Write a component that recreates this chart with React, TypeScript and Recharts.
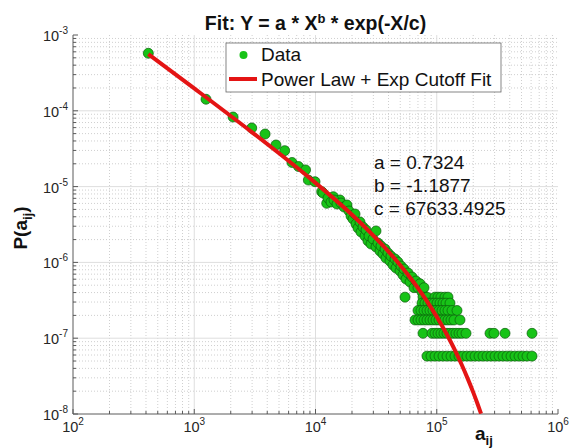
// Log-log scatter of P(a_ij) with a power law + exponential cutoff fit.

import React from 'react';
import { ScatterChart, Scatter, XAxis, YAxis, ReferenceLine } from 'recharts';

const FONT = "'Liberation Sans', Arial, Helvetica, sans-serif";
const AX = '#5a5a5a';
const GREEN = '#17c317';
const RED = '#e41414';

// axis ticks
const xMajor = [1e2, 1e3, 1e4, 1e5, 1e6];
const xExp = ['2', '3', '4', '5', '6'];
const yMajor = [1e-8, 1e-7, 1e-6, 1e-5, 1e-4, 1e-3];
const yExp = ['-8', '-7', '-6', '-5', '-4', '-3'];
const steps = [2, 3, 4, 5, 6, 7, 8, 9];
const xMinor = xMajor.slice(0, -1).flatMap((d) => steps.map((k) => k * d));
const yMinor = yMajor.slice(0, -1).flatMap((d) => steps.map((k) => k * d));

// isolated points at small a_ij
const headX = [418, 1250, 2090, 2980, 3840, 4720, 5570, 6400, 7240, 8280, 8730, 9910, 11250, 12370, 14020, 15920, 18080, 20500, 21870];
const headY = [5.74e-4, 1.42e-4, 8.28e-5, 5.93e-5, 4.94e-5, 3.54e-5, 2.98e-5, 2.08e-5, 1.84e-5, 1.66e-5, 1.22e-5, 1.16e-5, 8.57e-6, 6.02e-6, 7.36e-6, 6.66e-6, 5.43e-6, 4.01e-6, 3.28e-6];

// dense band in the middle
const bandX = [11530, 12680, 13420, 14210, 15040, 16230, 17190, 18190, 18890, 19630, 20390, 21180, 21580, 22420, 23290, 23730, 24650, 25600, 26100, 27100, 27620, 28690, 29800, 31550, 31550, 32770, 34040, 34690, 36030, 37430, 38140, 39620, 41150, 41940, 43560, 45250, 46120, 47900, 49760, 50710, 52670, 53700, 54730, 55780, 57940, 60180, 62510, 64930, 67450, 70060, 72770, 75590, 78510];
const bandY = [8.23e-6, 7.07e-6, 6.26e-6, 6.65e-6, 5.89e-6, 6.07e-6, 5.38e-6, 5.72e-6, 4.77e-6, 4.09e-6, 3.74e-6, 4.35e-6, 3.21e-6, 2.84e-6, 3.41e-6, 2.52e-6, 2.93e-6, 2.23e-6, 2.68e-6, 1.92e-6, 2.23e-6, 1.75e-6, 2.04e-6, 2.6e-6, 1.6e-6, 1.8e-6, 1.41e-6, 1.65e-6, 1.29e-6, 1.5e-6, 1.14e-6, 1.33e-6, 1.04e-6, 1.21e-6, 9.24e-7, 1.11e-6, 8.43e-7, 1.01e-6, 7.7e-7, 8.96e-7, 6.82e-7, 8.18e-7, 3.48e-7, 6.04e-7, 7.25e-7, 5.51e-7, 6.42e-7, 4.64e-7, 5.68e-7, 4.64e-7, 5.22e-7, 4.06e-7, 4.64e-7];

// tail rows (few counts each)
const rowLevels = [3.48e-7, 2.9e-7, 2.32e-7, 1.74e-7, 1.16e-7, 5.8e-8];
const row6X = [77040, 83110, 96740, 102400, 108400, 116900, 123800];
const row5X = [75590, 80010, 84680, 89660, 94910, 100500, 106400, 112600, 119200, 128600];
const row4X = [70060, 74160, 78510, 83110, 87970, 93120, 98580, 104400, 110500, 116900, 123800, 133600, 146900];
const row3X = [66170, 70060, 74160, 78510, 83110, 87970, 93120, 98580, 104400, 110500, 116900, 123800, 131100, 138800, 155500];
const row2X = [77040, 91350, 96740, 102400, 108400, 114700, 121500, 128600, 136100, 144100, 152600, 161500, 174300, 274900, 296700, 365600, 610500];
const row1X = [83110, 89660, 96740, 104400, 112600, 121500, 131100, 141400, 152600, 164600, 177600, 191600, 206800, 223100, 240700, 259700, 280200, 302300, 326200, 351900, 379700, 409700, 442000, 476900, 514400, 555000, 610500];
const rowsX = [row6X, row5X, row4X, row3X, row2X, row1X];

// fitted curve
const fitX = [418, 1000, 3000, 5000, 1e4, 2e4, 3e4, 4e4, 5e4, 6e4, 7e4, 8.5e4, 1e5, 1.15e5, 1.3e5, 1.45e5, 1.6e5, 1.8e5, 2e5, 2.15e5, 2.32e5];
const fitY = [5.61e-4, 1.974e-4, 5.2e-5, 2.75e-5, 1.12e-5, 4.25e-6, 2.26e-6, 1.39e-6, 9.18e-7, 6.38e-7, 4.58e-7, 2.91e-7, 1.92e-7, 1.305e-7, 9.04e-8, 6.36e-8, 4.53e-8, 2.93e-8, 1.93e-8, 1.42e-8, 1.01e-8];

const points = [
  ...headX.map((x, i) => ({ x, y: headY[i] })),
  ...bandX.map((x, i) => ({ x, y: bandY[i] })),
  ...rowsX.flatMap((row, r) => row.map((x) => ({ x, y: rowLevels[r] }))),
];
const fit = fitX.map((x, i) => ({ x, y: fitY[i] }));

const xTicks = [...xMajor, ...xMinor];
const yTicks = [...yMajor, ...yMinor];

function BottomTick({ x, y, payload }: any) {
  const i = xMajor.indexOf(payload.value);
  const len = i < 0 ? 3 : 5;
  return (
    <g>
      <line x1={x} x2={x} y1={y} y2={y - len} stroke={AX} />
      {i >= 0 && (
        <text x={x} y={y + 18} textAnchor="middle" fontSize={14.5} fill="#262626" fontFamily={FONT}>
          10<tspan dy={-7} fontSize={10}>{xExp[i]}</tspan>
        </text>
      )}
    </g>
  );
}

function TopTick({ x, y, payload }: any) {
  const len = xMajor.includes(payload.value) ? 5 : 3;
  return <line x1={x} x2={x} y1={y} y2={y + len} stroke={AX} />;
}

function LeftTick({ x, y, payload }: any) {
  const i = yMajor.indexOf(payload.value);
  const len = i < 0 ? 3 : 5;
  return (
    <g>
      <line x1={x} x2={x + len} y1={y} y2={y} stroke={AX} />
      {i >= 0 && (
        <text x={x - 5} y={y + 6} textAnchor="end" fontSize={14.5} fill="#262626" fontFamily={FONT}>
          10<tspan dy={-7} fontSize={10}>{yExp[i]}</tspan>
        </text>
      )}
    </g>
  );
}

function RightTick({ x, y, payload }: any) {
  const len = yMajor.includes(payload.value) ? 5 : 3;
  return <line x1={x} x2={x - len} y1={y} y2={y} stroke={AX} />;
}

export default function App() {
  return (
    <div style={{ position: 'absolute', left: 0, top: 0, width: 571, height: 448, background: '#fff' }}>
      <ScatterChart width={571} height={448} margin={{ top: 35, right: 13, bottom: 4, left: 13 }}>
        <XAxis
          dataKey="x"
          type="number"
          scale="log"
          domain={[1e2, 1e6]}
          allowDataOverflow
          ticks={xTicks}
          interval={0}
          tick={<BottomTick />}
          tickLine={false}
          tickSize={0}
          tickMargin={0}
          height={30}
          axisLine={{ stroke: AX }}
        />
        <XAxis
          xAxisId="top"
          orientation="top"
          dataKey="x"
          type="number"
          scale="log"
          domain={[1e2, 1e6]}
          allowDataOverflow
          ticks={xTicks}
          interval={0}
          tick={<TopTick />}
          tickLine={false}
          tickSize={0}
          tickMargin={0}
          height={0}
          axisLine={{ stroke: AX }}
        />
        <YAxis
          dataKey="y"
          type="number"
          scale="log"
          domain={[1e-8, 1e-3]}
          allowDataOverflow
          ticks={yTicks}
          interval={0}
          tick={<LeftTick />}
          tickLine={false}
          tickSize={0}
          tickMargin={0}
          width={60}
          axisLine={{ stroke: AX }}
        />
        <YAxis
          yAxisId="right"
          orientation="right"
          dataKey="y"
          type="number"
          scale="log"
          domain={[1e-8, 1e-3]}
          allowDataOverflow
          ticks={yTicks}
          interval={0}
          tick={<RightTick />}
          tickLine={false}
          tickSize={0}
          tickMargin={0}
          width={0}
          axisLine={{ stroke: AX }}
        />
        {xMinor.map((v) => (
          <ReferenceLine key={'xm' + v} x={v} stroke="#cfcfcf" strokeDasharray="1 2" />
        ))}
        {yMinor.map((v) => (
          <ReferenceLine key={'ym' + v} y={v} stroke="#cfcfcf" strokeDasharray="1 2" />
        ))}
        {xMajor.slice(1, -1).map((v) => (
          <ReferenceLine key={'xM' + v} x={v} stroke="#dedede" />
        ))}
        {yMajor.slice(1, -1).map((v) => (
          <ReferenceLine key={'yM' + v} y={v} stroke="#dedede" />
        ))}
        <Scatter
          data={points}
          isAnimationActive={false}
          shape={(p: any) => <circle cx={p.cx} cy={p.cy} r={5} fill={GREEN} stroke="#0c5c0c" strokeWidth={0.7} />}
        />
        <Scatter
          data={fit}
          isAnimationActive={false}
          line={{ stroke: RED, strokeWidth: 4 }}
          lineJointType="monotoneX"
          shape={() => <g />}
        />
      </ScatterChart>
      <svg
        width={571}
        height={448}
        style={{ position: 'absolute', left: 0, top: 0, pointerEvents: 'none', whiteSpace: 'pre' }}
        fontFamily={FONT}
      >
        <text x={315.5} y={30} textAnchor="middle" fontSize={19.5} fontWeight="bold" fill="#111">
          Fit: Y = a * X<tspan dy={-7} fontSize={13}>b</tspan>
          <tspan dy={7}> * exp(-X/c)</tspan>
        </text>
        <rect x={226} y={43} width={275} height={49} fill="#fff" stroke="#666" strokeWidth={0.8} />
        <circle cx={243.5} cy={55} r={4} fill={GREEN} />
        <text x={261} y={61} fontSize={19} fill="#111">Data</text>
        <line x1={229} x2={257} y1={79} y2={79} stroke={RED} strokeWidth={4} />
        <text x={261} y={85.5} fontSize={19} fill="#111">Power Law + Exp Cutoff Fit</text>
        <text x={374} y={169} fontSize={19} fill="#111">a = 0.7324</text>
        <text x={374} y={192} fontSize={19} fill="#111">b = -1.1877</text>
        <text x={374} y={215} fontSize={19} fill="#111">c = 67633.4925</text>
        <text x={475} y={440} fontSize={19} fontWeight="bold" fill="#111">
          a<tspan dy={5} fontSize={13}>ij</tspan>
        </text>
        <text transform="translate(27,228) rotate(-90)" textAnchor="middle" fontSize={19} fontWeight="bold" fill="#111">
          P(a<tspan dy={5} fontSize={13}>ij</tspan>
          <tspan dy={-5}>)</tspan>
        </text>
      </svg>
    </div>
  );
}
